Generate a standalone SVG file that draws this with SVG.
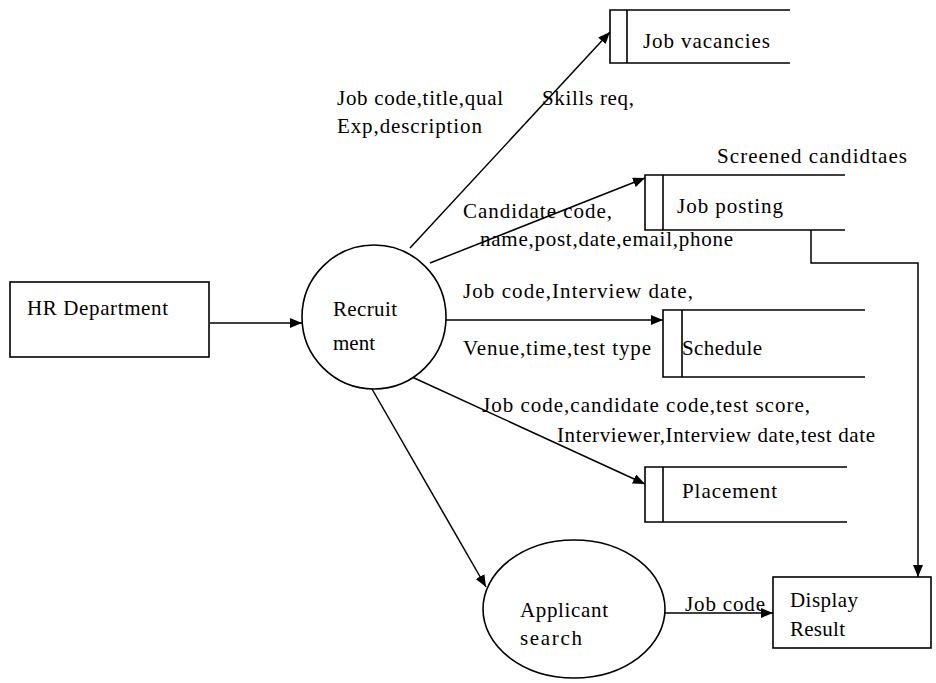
<svg xmlns="http://www.w3.org/2000/svg" width="936" height="683" viewBox="0 0 936 683">
<style>
  text { font-family: "Liberation Serif", "Times New Roman", serif; font-size: 21px; fill: #000; }
  .box { fill: #fff; stroke: #000; stroke-width: 1.6; }
  .st { fill: none; stroke: #000; stroke-width: 1.6; }
  .flow { fill: none; stroke: #000; stroke-width: 1.5; marker-end: url(#arr); }
</style>
<defs>
  <marker id="arr" viewBox="0 0 12 10" refX="12" refY="5" markerWidth="12" markerHeight="10" markerUnits="userSpaceOnUse" orient="auto">
    <path d="M0,0 L12,5 L0,10 Z" fill="#000"/>
  </marker>
</defs>
<rect width="936" height="683" fill="#fff"/>

<g id="connectors">
  <path class="flow" d="M210,323 L302,323"/>
  <path class="flow" d="M410,248 L610,32"/>
  <path class="flow" d="M430,263 L645,178"/>
  <path class="flow" d="M446,320 L663,320"/>
  <path class="flow" d="M412,377 L645,484"/>
  <path class="flow" d="M372,389 L486,587"/>
  <path class="flow" d="M665,613 L773,613"/>
  <path class="flow" d="M811,230 L811,263 L918,263 L918,577"/>
</g>

<g id="labels">
  <text x="337" y="105" textLength="166">Job code,title,qual</text>
  <text x="337" y="133" textLength="145">Exp,description</text>
  <text x="542" y="105" textLength="92">Skills req,</text>
  <text x="717" y="163" textLength="190">Screened candidtaes</text>
  <text x="463" y="218" textLength="149">Candidate code,</text>
  <text x="480" y="246" textLength="253">name,post,date,email,phone</text>
  <text x="463" y="298" textLength="230">Job code,Interview date,</text>
  <text x="463" y="355" textLength="188">Venue,time,test type</text>
  <text x="482" y="412" textLength="328">Job code,candidate code,test score,</text>
  <text x="557" y="442" textLength="318">Interviewer,Interview date,test date</text>
  <text x="685" y="611" textLength="80">Job code</text>
</g>

<g id="hr-department">
  <rect class="box" x="10" y="282" width="199" height="75"/>
  <text x="27" y="315" textLength="141">HR Department</text>
</g>

<g id="recruitment">
  <circle class="box" cx="374" cy="317" r="72"/>
  <text x="333" y="316" textLength="64">Recruit</text>
  <text x="333" y="350" textLength="42">ment</text>
</g>

<g id="job-vacancies">
  <path class="st" d="M790,10 L610,10 L610,63 L790,63 M627,10 L627,63"/>
  <text x="643" y="48" textLength="127">Job vacancies</text>
</g>

<g id="job-posting">
  <path class="st" d="M845,175 L645,175 L645,230 L845,230 M663,175 L663,230"/>
  <text x="677" y="213" textLength="106">Job posting</text>
</g>

<g id="schedule">
  <path class="st" d="M865,310 L663,310 L663,377 L865,377 M682,310 L682,377"/>
  <text x="682" y="355" textLength="80">Schedule</text>
</g>

<g id="placement">
  <path class="st" d="M847,467 L645,467 L645,522 L847,522 M663,467 L663,522"/>
  <text x="682" y="498" textLength="95">Placement</text>
</g>

<g id="applicant-search">
  <ellipse class="box" cx="574" cy="609" rx="91" ry="69"/>
  <text x="520" y="617" textLength="88">Applicant</text>
  <text x="520" y="645" textLength="62">search</text>
</g>

<g id="display-result">
  <rect class="box" x="773" y="577" width="158" height="71"/>
  <text x="790" y="607" textLength="68">Display</text>
  <text x="790" y="636" textLength="55">Result</text>
</g>
</svg>
